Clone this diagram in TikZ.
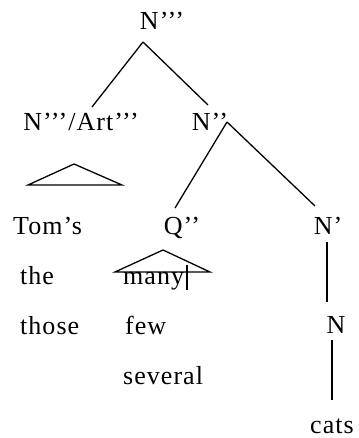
\documentclass[tikz,border=0pt]{standalone}
\usepackage{fontspec}
\setmainfont[LetterSpace=4]{Liberation Serif}
\usepackage{tikz}
\usetikzlibrary{calc}
\tikzset{
  cat/.style    = {font=\fontsize{26}{30}\selectfont, inner sep=0pt, anchor=base},
  word/.style   = {font=\fontsize{26}{30}\selectfont, inner sep=0pt, anchor=base west},
  branch/.style = {line width=1.3pt, black},
  roof/.style   = {line width=1.3pt, black, line join=miter},
}

\begin{document}
\begin{tikzpicture}[x=1pt, y=-1pt]
  \useasboundingbox (0,0) rectangle (358,438);
  \node[cat] (top)  at (162, 30) {N’’’};
  \node[cat] (art)  at (81, 131) {N’’’/Art’’’};
  \node[cat] (nbb)  at (210, 131) {N’’};
  \node[cat] (qbb)  at (182, 234) {Q’’};
  \node[cat] (nb)   at (328, 234) {N’};
  \node[cat] (n)    at (336, 333) {N};
  \node[cat] (cats) at (332, 433) {cats};
  \node[word] (toms)    at (13, 234) {Tom’s};
  \node[word] (the)     at (20, 284) {the};
  \node[word] (those)   at (20, 334) {those};
  \node[word] (many)    at (123, 284) {many};
  \node[word] (few)     at (125, 334) {few};
  \node[word] (several) at (123, 384) {several};
  \draw[branch] ($(top.base)+(-19,12)$) -- ($(art.base)+(11,-24)$);
  \draw[branch] ($(top.base)+(-19,12)$) -- ($(nbb.base)+(-2,-26)$);
  \draw[branch] ($(nbb.base)+(17,-9)$) -- ($(qbb.base)+(-7,-26)$);
  \draw[branch] ($(nbb.base)+(17,-9)$) -- ($(nb.base)+(-13,-28)$);
  \draw[branch] ($(nb.base)+(-1,8)$) -- ($(n.base)+(-9,-31)$);
  \draw[branch] ($(n.base)+(-4,7)$) -- ($(cats.base)+(0,-33)$);
  \draw[roof] ($(art.base)+(-7,33)$) -- ($(art.base)+(-53,54)$)
    -- ($(art.base)+(41,54)$) -- cycle;
  \draw[roof] ($(qbb.base)+(-19,16)$) -- ($(qbb.base)+(-67,38)$)
    -- ($(qbb.base)+(28,38)$) -- cycle;
  \draw[branch] ($(many.base west)+(64,-19)$) -- ($(many.base west)+(64,6)$);
\end{tikzpicture}
\end{document}
